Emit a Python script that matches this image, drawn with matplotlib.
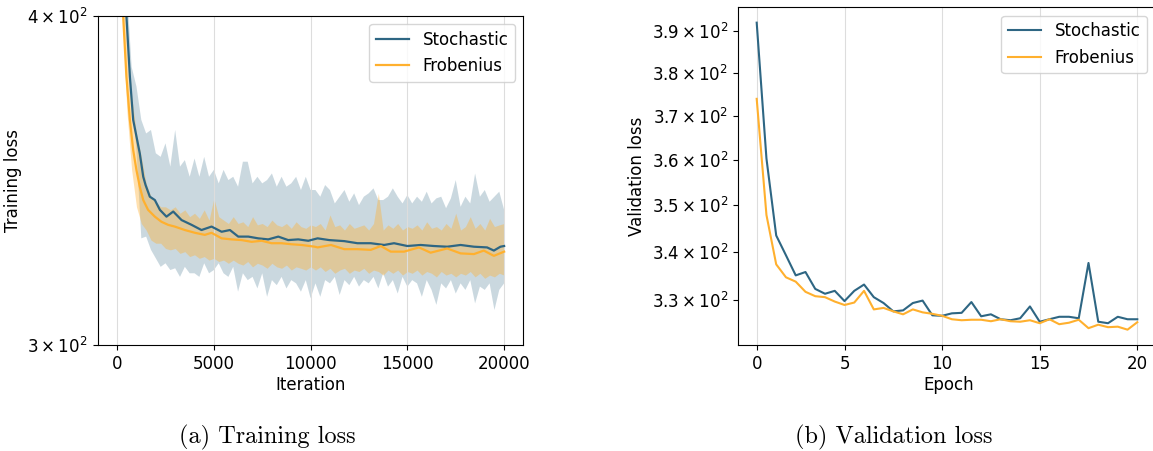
import numpy as np
import matplotlib
matplotlib.use("Agg")
import matplotlib.pyplot as plt
from matplotlib.ticker import FixedLocator, NullLocator

# ---- training loss (left panel) ----
# raw loss band, sampled every 250 iterations (upper / lower envelope)
raw_iter = np.arange(0, 20001, 250)
stoch_raw_hi = [480, 440, 410, 382.5, 376.0, 365.2, 360.9, 362.0, 354.7, 353.6, 357.8, 350.6, 362.0, 350.6,
                352.6, 347.5, 353.1, 347.5, 353.6, 347.5, 349.6, 345.5, 349.6, 346.5, 347.5, 344.5, 352.1,
                352.1, 345.5, 347.5, 345.5, 346.5, 348.5, 344.5, 347.5, 344.5, 345.5, 347.5, 343.5, 347.5,
                343.5, 343.5, 341.5, 345.0, 343.5, 339.5, 341.5, 343.5, 340.0, 342.5, 339.0, 341.5, 342.5,
                344.0, 340.5, 340.5, 341.5, 344.0, 341.5, 339.5, 342.0, 339.5, 341.5, 340.0, 343.0, 339.5,
                341.0, 341.5, 338.1, 341.0, 346.5, 338.5, 341.5, 339.5, 348.5, 341.5, 343.5, 340.0, 341.5,
                343.0, 337.6]
stoch_raw_lo = [460, 420, 395, 373.8, 355.7, 329.3, 329.8, 326.0, 323.6, 321.2, 322.2, 320.3, 320.8, 318.4,
                321.2, 319.4, 319.4, 318.4, 322.2, 319.4, 320.3, 322.2, 319.4, 318.4, 321.2, 314.3, 319.4,
                317.5, 318.4, 315.2, 319.4, 312.9, 317.5, 316.1, 318.4, 315.2, 317.5, 316.6, 314.3, 317.5,
                312.5, 316.6, 312.9, 317.5, 316.6, 318.4, 313.4, 317.5, 316.1, 318.4, 315.7, 317.5, 316.6,
                318.4, 315.2, 319.4, 315.7, 317.5, 313.8, 318.4, 315.7, 317.5, 316.6, 312.9, 317.5, 314.8,
                310.7, 316.6, 315.2, 317.5, 313.8, 316.6, 314.8, 317.5, 311.1, 315.7, 314.8, 316.6, 309.3,
                314.8, 316.6]
frob_raw_hi = [470, 430, 395, 372.7, 360.9, 353.6, 345.5, 341.5, 340.0, 338.5, 338.5, 337.6, 338.5, 336.6,
               337.6, 335.6, 336.6, 335.1, 337.6, 334.6, 341.0, 335.6, 334.6, 333.6, 335.6, 333.6, 334.1,
               332.7, 335.6, 333.2, 333.6, 332.7, 334.6, 333.2, 332.7, 333.6, 332.2, 334.1, 332.7, 332.2,
               333.2, 332.7, 333.6, 331.7, 336.1, 332.7, 333.2, 331.7, 333.6, 332.2, 332.7, 333.2, 331.7,
               333.6, 342.5, 331.7, 333.2, 332.2, 333.6, 331.7, 332.7, 332.2, 333.2, 331.7, 334.1, 332.2,
               332.7, 331.7, 333.6, 332.2, 336.6, 331.7, 332.7, 335.6, 332.2, 333.6, 331.7, 335.1, 332.7,
               333.2, 333.6]
frob_raw_lo = [440, 405, 368.4, 349.6, 338.5, 333.6, 331.7, 328.8, 327.9, 327.9, 326.4, 326.0, 326.4, 325.0,
               325.5, 324.1, 324.6, 323.6, 324.1, 323.1, 323.6, 322.7, 323.1, 322.2, 323.1, 322.2, 321.7,
               322.7, 321.2, 322.2, 321.7, 320.8, 322.2, 321.2, 320.8, 321.7, 320.3, 321.2, 320.8, 320.3,
               321.2, 320.3, 321.2, 319.9, 320.8, 319.4, 320.3, 320.8, 319.4, 320.3, 319.9, 320.8, 319.4,
               320.3, 319.9, 318.9, 320.3, 319.4, 320.3, 318.9, 319.9, 319.4, 320.3, 318.9, 319.9, 319.4,
               318.4, 319.9, 318.9, 319.4, 318.4, 319.4, 318.9, 319.9, 318.4, 319.4, 318.0, 318.9, 318.4,
               319.4, 318.9]

# smoothed curves
stoch_iter = [250, 480, 660, 830, 1000, 1170, 1350, 1470, 1690, 1950, 2210, 2550, 2900, 3330, 3850, 4360,
              4880, 5400, 5830, 6260, 6780, 7290, 7810, 8330, 8840, 9360, 9880, 10360, 10960, 11740, 12420,
              13110, 13800, 14310, 15000, 15690, 16370, 17060, 17750, 18440, 19120, 19470, 19810, 20000]
stoch_smooth = [440, 400, 379.2, 365.2, 359.9, 354.7, 347.5, 345.0, 341.5, 340.5, 337.6, 335.6, 337.1, 334.6,
                333.2, 331.7, 332.7, 331.2, 331.7, 329.8, 329.8, 329.3, 329.0, 329.8, 328.8, 329.0, 328.6,
                329.3, 328.8, 328.5, 327.9, 327.9, 327.4, 327.9, 327.1, 327.4, 327.1, 326.9, 327.4, 326.9,
                326.7, 325.8, 326.9, 327.1]
frob_iter = [150, 310, 480, 660, 830, 1000, 1170, 1350, 1600, 1950, 2290, 2640, 2980, 3500, 4020, 4530, 4880,
             5400, 5910, 6430, 6950, 7470, 7980, 8500, 9020, 9530, 10220, 10360, 11050, 11740, 12420, 13110,
             13630, 14140, 14830, 15600, 16200, 17060, 17750, 18440, 18950, 19470, 20000]
frob_smooth = [440, 400, 379.2, 365.2, 355.7, 349.5, 344.5, 340.5, 337.6, 335.6, 334.1, 333.2, 332.7, 331.7,
               330.9, 330.3, 330.9, 329.3, 329.0, 328.8, 328.3, 328.6, 327.9, 327.9, 327.6, 327.4, 326.9, 326.7,
               327.4, 326.2, 326.2, 326.0, 327.1, 325.5, 325.5, 326.7, 325.2, 326.4, 325.0, 324.8, 325.8, 324.3,
               325.5]

# ---- validation loss (right panel), 40 evaluations over 20 epochs ----
val_stoch = [392.0, 360.3, 343.5, 339.3, 335.1, 335.8, 332.3, 331.3, 331.9, 329.8, 331.9, 333.2, 330.6, 329.4,
             327.7, 327.9, 329.4, 329.9, 326.9, 326.8, 327.3, 327.4, 329.6, 326.7, 327.1, 326.1, 325.9, 326.3,
             328.7, 325.6, 326.1, 326.6, 326.6, 326.3, 337.7, 325.6, 325.3, 326.6, 326.1, 326.1]
val_frob = [373.9, 347.9, 337.4, 334.7, 333.8, 331.7, 330.8, 330.6, 329.7, 329.0, 329.5, 331.9, 328.1, 328.4,
            327.7, 327.1, 328.1, 327.5, 327.2, 326.8, 326.1, 325.9, 326.0, 326.0, 325.7, 326.1, 325.7, 325.6,
            325.9, 325.3, 326.1, 325.1, 325.4, 326.0, 324.3, 325.0, 324.5, 324.6, 324.0, 325.5]
val_idx = np.arange(1, len(val_stoch) + 1)
epoch_tick_pos = [1, 10, 20, 30, 40]
epoch_tick_lab = ['0', '5', '10', '15', '20']
val_ticks = [330, 340, 350, 360, 370, 380, 390]

c_stoch = '#2e6683'
c_frob = '#ffb02e'

fig = plt.figure(figsize=(11.53, 4.51), dpi=100)

#Training loss
ax1 = fig.add_axes([0.0848, 0.235, 0.3692, 0.7302])
ax1.fill_between(raw_iter, stoch_raw_lo, stoch_raw_hi, color=c_stoch, alpha=0.25, linewidth=0)
ax1.plot(stoch_iter, stoch_smooth, color=c_stoch, lw=1.6, label='Stochastic')
ax1.fill_between(raw_iter, frob_raw_lo, frob_raw_hi, color=c_frob, alpha=0.38, linewidth=0)
ax1.plot(frob_iter, frob_smooth, color=c_frob, lw=1.6, label='Frobenius')
ax1.set_yscale('log')
ax1.set_ylim(300, 400)
ax1.yaxis.set_major_locator(FixedLocator([300, 400]))
ax1.yaxis.set_minor_locator(NullLocator())
ax1.set_yticklabels([r'$\mathdefault{3\times10^{2}}$', r'$\mathdefault{4\times10^{2}}$'])
ax1.set_xticks([0, 5000, 10000, 15000, 20000])
ax1.set_xlabel('Iteration', fontsize=12, labelpad=2)
ax1.set_ylabel('Training loss', fontsize=12)
ax1.tick_params(labelsize=12)
ax1.grid(axis='x', color='#dddddd', linewidth=0.8)
ax1.legend(loc='upper right', fontsize=12)

#Validation loss (right spine falls just outside the figure)
ax2 = fig.add_axes([0.6398, 0.235, 0.3663, 0.7488])
ax2.plot(val_idx, val_stoch, color=c_stoch, lw=1.5, label='Stochastic')
ax2.plot(val_idx, val_frob, color=c_frob, lw=1.5, label='Frobenius')
ax2.set_yscale('log')
ax2.yaxis.set_major_locator(FixedLocator(val_ticks))
ax2.yaxis.set_minor_locator(NullLocator())
ax2.set_yticklabels([r'$\mathdefault{%.1f\times10^{2}}$' % (v / 100) for v in val_ticks])
ax2.set_xlim(-0.947, 42.33)
ax2.set_xticks(epoch_tick_pos)
ax2.set_xticklabels(epoch_tick_lab)
ax2.set_xlabel('Epoch', fontsize=12, labelpad=2)
ax2.set_ylabel('Validation loss', fontsize=12)
ax2.tick_params(labelsize=12)
ax2.grid(axis='x', color='#dddddd', linewidth=0.8)
ax2.legend(loc='upper right', bbox_to_anchor=(0.9896, 1.0), fontsize=12)

fig.text(0.232, 0.03, '(a) Training loss', ha='center', va='center', family='cmr10', fontsize=17.5)
fig.text(0.775, 0.03, '(b) Validation loss', ha='center', va='center', family='cmr10', fontsize=17.5)

fig.savefig('out.png', dpi=100)
